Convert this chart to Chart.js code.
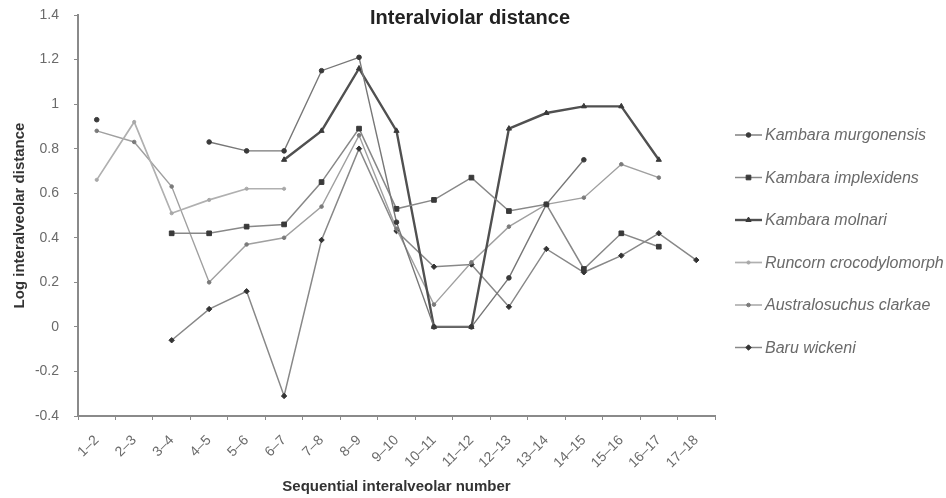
<!DOCTYPE html>
<html lang="en">
<head>
    <meta charset="UTF-8">
    <title>Interalviolar distance</title>
    <script src="https://cdn.jsdelivr.net/npm/chart.js"></script>
    <style>
        html, body { margin: 0; padding: 0; background: #fff; }
        #wrap { width: 946px; height: 498px; }
    </style>
</head>
<body>
<div id="wrap"><canvas id="myChart" width="946" height="498"></canvas></div>

<script>
    // categories on the x axis
    const pairs = ['1–2', '2–3', '3–4', '4–5', '5–6', '6–7', '7–8', '8–9', '9–10',
        '10–11', '11–12', '12–13', '13–14', '14–15', '15–16', '16–17', '17–18'];

    // log interalveolar distance per taxon (null = no value)
    const murgonensis = [0.93, null, null, 0.83, 0.79, 0.79, 1.15, 1.21, 0.47, 0, 0, 0.22, 0.55, 0.75, null, null, null];
    const implexidens = [null, null, 0.42, 0.42, 0.45, 0.46, 0.65, 0.89, 0.53, 0.57, 0.67, 0.52, 0.55, 0.26, 0.42, 0.36, null];
    const molnari = [null, null, null, null, null, 0.75, 0.88, 1.16, 0.88, 0, 0, 0.89, 0.96, 0.99, 0.99, 0.75, null];
    const runcorn = [0.66, 0.92, 0.51, 0.57, 0.62, 0.62, null, null, null, null, null, null, null, null, null, null, null];
    const clarkae = [0.88, 0.83, 0.63, 0.20, 0.37, 0.40, 0.54, 0.86, 0.44, 0.10, 0.29, 0.45, 0.55, 0.58, 0.73, 0.67, null];
    const wickeni = [null, null, -0.06, 0.08, 0.16, -0.31, 0.39, 0.80, 0.43, 0.27, 0.28, 0.09, 0.35, 0.245, 0.32, 0.42, 0.30];

    const yTicks = [-0.4, -0.2, 0, 0.2, 0.4, 0.6, 0.8, 1, 1.2, 1.4];

    const FONT = "'Liberation Sans', Arial, sans-serif";

    function series(label, values, line, width, marker, style, radius) {
        return {
            label: label,
            data: values,
            borderColor: line,
            borderWidth: width,
            pointStyle: style,
            pointRadius: radius,
            pointHoverRadius: radius,
            pointBackgroundColor: marker,
            pointBorderColor: marker,
            pointBorderWidth: 1,
            tension: 0,
            fill: false,
            spanGaps: false
        };
    }

    const datasets = [
        series('Kambara murgonensis', murgonensis, '#777777', 1.4, '#3a3a3a', 'circle', 2.3),
        series('Kambara implexidens', implexidens, '#888888', 1.5, '#3a3a3a', 'rect', 3.3),
        series('Kambara molnari', molnari, '#505050', 2.4, '#3a3a3a', 'triangle', 3),
        series('Runcorn crocodylomorph', runcorn, '#b0b0b0', 1.7, '#a8a8a8', 'circle', 1.6),
        series('Australosuchus clarkae', clarkae, '#a0a0a0', 1.4, '#7a7a7a', 'circle', 1.8),
        series('Baru wickeni', wickeni, '#888888', 1.5, '#333333', 'rectRot', 2.7)
    ];

    // title and legend, drawn on the canvas
    const decorations = {
        id: 'decorations',
        afterDraw(chart) {
            const ctx = chart.ctx;
            ctx.save();
            ctx.fillStyle = '#222';
            ctx.font = 'bold 20px ' + FONT;
            ctx.textAlign = 'center';
            ctx.textBaseline = 'middle';
            ctx.fillText('Interalviolar distance', 470, 18);

            ctx.font = 'italic 16px ' + FONT;
            ctx.textAlign = 'left';
            chart.data.datasets.forEach(function (ds, i) {
                const y = 135 + i * 42.5;
                ctx.strokeStyle = ds.borderColor;
                ctx.lineWidth = ds.borderWidth;
                ctx.beginPath();
                ctx.moveTo(735, y);
                ctx.lineTo(762, y);
                ctx.stroke();
                ctx.fillStyle = ds.pointBackgroundColor;
                ctx.strokeStyle = ds.pointBorderColor;
                ctx.lineWidth = 1;
                Chart.helpers.drawPoint(ctx, {pointStyle: ds.pointStyle, radius: ds.pointRadius, rotation: 0, borderWidth: 1}, 748.5, y);
                ctx.fillStyle = '#6a6a6a';
                ctx.fillText(ds.label, 765, y + 1);
            });
            ctx.restore();
        }
    };

    const ctx = document.getElementById('myChart').getContext('2d');
    new Chart(ctx, {
        type: 'line',
        data: {labels: pairs, datasets: datasets},
        options: {
            responsive: false,
            animation: false,
            layout: {padding: {top: 15, right: 231, bottom: 0, left: 6}},
            plugins: {
                legend: {display: false},
                title: {display: false},
                tooltip: {enabled: false}
            },
            scales: {
                x: {
                    type: 'category',
                    offset: true,
                    afterFit(scale) { scale.height = 82; },
                    grid: {
                        offset: true,
                        drawOnChartArea: false,
                        drawTicks: true,
                        tickLength: 4,
                        color: '#8a8a8a'
                    },
                    border: {color: '#8a8a8a', width: 2},
                    ticks: {
                        autoSkip: false,
                        minRotation: 45,
                        maxRotation: 45,
                        padding: 12,
                        color: '#6a6a6a',
                        font: {family: FONT, size: 14}
                    },
                    title: {
                        display: true,
                        text: 'Sequential interalveolar number',
                        color: '#333',
                        font: {family: FONT, size: 15, weight: 'bold'},
                        padding: {top: 0, bottom: 2}
                    }
                },
                y: {
                    min: -0.4,
                    max: 1.4,
                    afterFit(scale) {
                        scale.width = 72;
                        scale.paddingTop = 0;
                        scale.paddingBottom = 0;
                    },
                    afterBuildTicks(scale) {
                        scale.ticks = yTicks.map(function (v) { return {value: v}; });
                    },
                    grid: {
                        drawOnChartArea: false,
                        drawTicks: true,
                        tickLength: 4,
                        color: '#8a8a8a'
                    },
                    border: {color: '#8a8a8a', width: 2},
                    ticks: {
                        padding: 15,
                        color: '#6a6a6a',
                        font: {family: FONT, size: 14},
                        callback: function (v) { return String(Math.round(v * 10) / 10); }
                    },
                    title: {
                        display: true,
                        text: 'Log interalveolar distance',
                        color: '#333',
                        font: {family: FONT, size: 15, weight: 'bold'},
                        padding: {top: 5, bottom: 4}
                    }
                }
            }
        },
        plugins: [decorations]
    });
</script>
</body>
</html>
